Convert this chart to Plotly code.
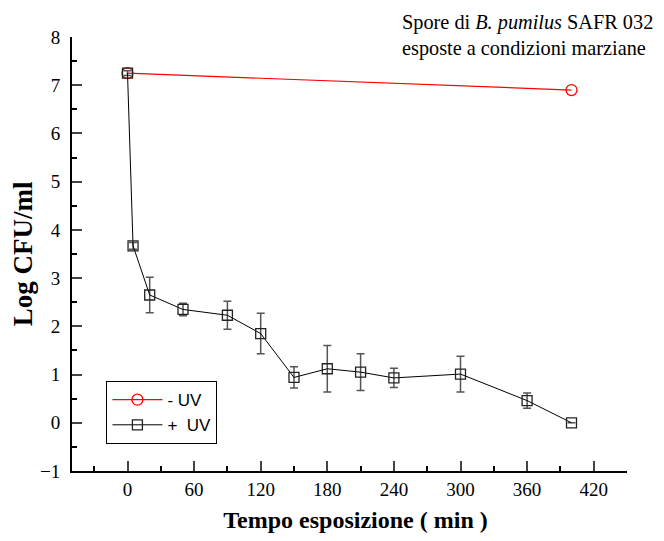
import plotly.graph_objects as go

# Data
t_uv = [0, 5, 20, 50, 90, 120, 150, 180, 210, 240, 300, 360, 400]
log_uv = [7.25, 3.67, 2.65, 2.35, 2.23, 1.85, 0.94, 1.12, 1.05, 0.93, 1.01, 0.46, 0.0]
err_uv = [0.05, 0.07, 0.37, 0.13, 0.29, 0.42, 0.22, 0.48, 0.38, 0.2, 0.37, 0.16, 0.0]

t_nouv = [0, 400]
log_nouv = [7.25, 6.9]

x_ticks = [0, 60, 120, 180, 240, 300, 360, 420]
y_ticks = [-1, 0, 1, 2, 3, 4, 5, 6, 7, 8]

serif = "Liberation Serif"

fig = go.Figure()
fig.add_trace(go.Scatter(
    x=t_nouv, y=log_nouv, mode="lines+markers", name="- UV",
    line=dict(color="red", width=1.2),
    marker=dict(symbol="circle-open", size=11, color="red", line=dict(width=1.3)),
))
fig.add_trace(go.Scatter(
    x=t_uv, y=log_uv, mode="lines+markers", name="+  UV",
    line=dict(color="black", width=1),
    marker=dict(symbol="square-open", size=10, color="#222", line=dict(width=1.3)),
    error_y=dict(type="data", array=err_uv, visible=True, color="#555", thickness=1.5, width=4),
))

fig.update_layout(
    width=648, height=525,
    margin=dict(l=64, r=29, t=29, b=62, autoexpand=False),
    plot_bgcolor="white", paper_bgcolor="white",
    font=dict(family=serif, size=19, color="black"),
    showlegend=True,
    legend=dict(
        x=0.062, y=0.207, xanchor="left", yanchor="top",
        bordercolor="black", borderwidth=1, bgcolor="white",
        font=dict(family="Liberation Sans", size=17),
        tracegroupgap=0, itemwidth=50,
    ),
    xaxis=dict(
        range=[-50, 450], tickvals=x_ticks, ticks="inside", ticklen=10, tickwidth=2,
        showline=True, linewidth=2, linecolor="black", showgrid=False, zeroline=False,
        minor=dict(dtick=30, tick0=0, ticks="inside", ticklen=5, tickwidth=2, tickcolor="black"),
        tickfont=dict(family=serif, size=19), ticklabelstandoff=0, automargin=False,
        title=dict(text="&nbsp;&nbsp;<b>Tempo esposizione ( min )</b>", font=dict(family=serif, size=24), standoff=14),
    ),
    yaxis=dict(
        range=[-1, 8], tickvals=y_ticks, ticks="inside", ticklen=10, tickwidth=2,
        showline=True, linewidth=2, linecolor="black", showgrid=False, zeroline=False,
        minor=dict(dtick=0.5, tick0=0, ticks="inside", ticklen=5, tickwidth=2, tickcolor="black"),
        tickfont=dict(family=serif, size=19), ticklabelstandoff=6, automargin=False,
        title=dict(text="<b>Log CFU/ml</b>", font=dict(family=serif, size=27), standoff=6),
    ),
    annotations=[dict(
        x=0.591, y=1.065, xref="paper", yref="paper", xanchor="left", yanchor="top",
        align="left", showarrow=False,
        text="Spore di <i>B. pumilus</i> SAFR 032<br>esposte a condizioni marziane",
        font=dict(family=serif, size=20.3),
    )],
)

fig.write_html("out.html")
